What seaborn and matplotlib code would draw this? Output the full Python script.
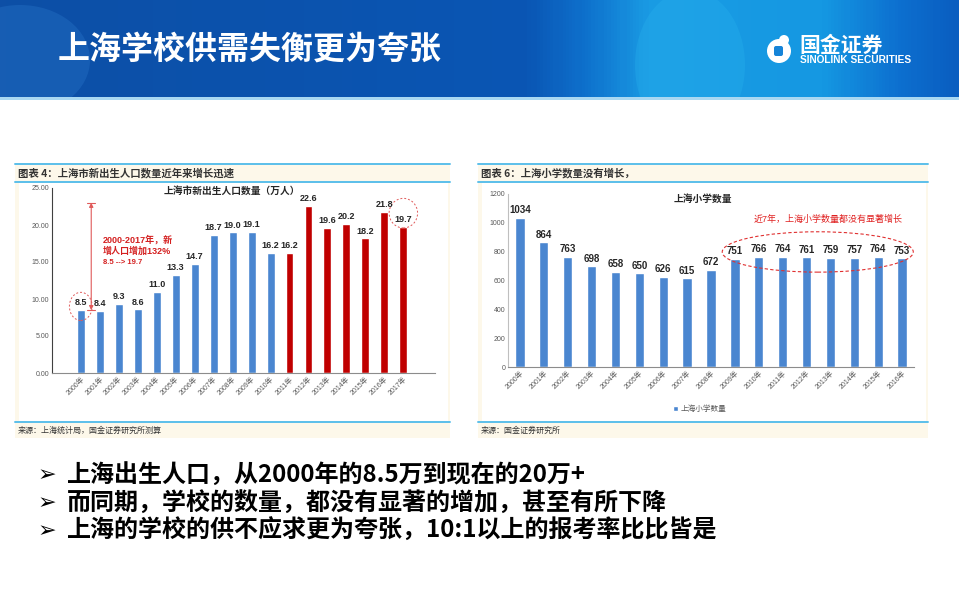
import numpy as np
import pandas as pd
import matplotlib
matplotlib.use("Agg")
import matplotlib.pyplot as plt
from matplotlib.colors import LinearSegmentedColormap
from matplotlib.patches import Rectangle, Ellipse, Circle, FancyBboxPatch
import seaborn as sns

# data
birth_years = [f"{y}年" for y in range(2000, 2018)]
births = [8.5, 8.4, 9.3, 8.6, 11.0, 13.3, 14.7, 18.7, 19.0, 19.1, 16.2,
          16.2, 22.6, 19.6, 20.2, 18.2, 21.8, 19.7]
birth_period = ["前"] * 11 + ["后"] * 7

school_years = [f"{y}年" for y in range(2000, 2017)]
schools = [1034, 864, 763, 698, 658, 650, 626, 615, 672, 751, 766, 764,
           761, 759, 757, 764, 753]

page_title = "上海学校供需失衡更为夸张"
bullets = ["上海出生人口，从2000年的8.5万到现在的20万+",
           "而同期，学校的数量，都没有显著的增加，甚至有所下降",
           "上海的学校的供不应求更为夸张，10:1以上的报考率比比皆是"]

sns.set_style("white")
plt.rcParams['font.family'] = ['Liberation Sans', 'Noto Sans CJK SC', 'DejaVu Sans']

BLUE = "#4a86d0"
RED = "#c00000"
LINE = "#5bbfea"
BEIGE = "#fdf8ea"
CJK = ['Noto Sans CJK SC', 'DejaVu Sans']

fig = plt.figure(figsize=(9.59, 6.15), dpi=100)

# background layer in pixel coordinates
bg = fig.add_axes([0, 0, 1, 1], zorder=0)
bg.set_xlim(0, 959)
bg.set_ylim(615, 0)
bg.axis("off")

# header banner
cmap = LinearSegmentedColormap.from_list("hdr", [
    (0.0, "#0d4fa6"), (0.55, "#0a56b4"), (0.61, "#0e70cc"), (0.68, "#1a9ce4"),
    (0.86, "#1598e2"), (0.94, "#0d70d0"), (1.0, "#0a5ec0")])
bg.imshow(np.linspace(0, 1, 300).reshape(1, -1), cmap=cmap, aspect="auto",
          extent=[0, 959, 97, 0], zorder=1)
banner = Rectangle((0, 0), 959, 97, transform=bg.transData)
for center, w, h, col, a in [((20, 60), 140, 110, "#2a78cc", 0.35),
                             ((690, 65), 110, 150, "#2ab4ee", 0.3)]:
    e = Ellipse(center, w, h, color=col, alpha=a, lw=0, zorder=2)
    bg.add_patch(e)
    e.set_clip_path(banner)
bg.add_patch(Rectangle((0, 97), 959, 3, color="#a9d8f2", lw=0, zorder=2))
bg.text(58, 50, page_title, fontsize=23, fontweight="bold", color="white",
        va="center", family=CJK, zorder=3)

# logo
bg.add_patch(Circle((779, 51), 12, color="white", lw=0, zorder=3))
bg.add_patch(Circle((784, 40), 5, color="white", lw=0, zorder=3))
bg.add_patch(FancyBboxPatch((774, 46), 9, 10, boxstyle="round,pad=0,rounding_size=2",
                            color="#1584d8", lw=0, zorder=4))
bg.text(799, 45, "国金证券", fontsize=15, fontweight="bold", color="white",
        va="center", family=CJK, zorder=3)
bg.text(800, 60, "SINOLINK SECURITIES", fontsize=7.3, fontweight="bold",
        color="white", va="center", zorder=3)

# panel frames
for x0, x1, cap, src in [(15, 450, "图表 4：上海市新出生人口数量近年来增长迅速",
                          "来源：上海统计局，国金证券研究所测算"),
                         (478, 928, "图表 6：上海小学数量没有增长，",
                          "来源：国金证券研究所")]:
    bg.add_patch(Rectangle((x0, 164), x1 - x0, 274, color=BEIGE, lw=0, zorder=1))
    bg.add_patch(Rectangle((x0 + 4, 182), x1 - x0 - 6, 240, color="white", lw=0, zorder=1))
    for yy in (164, 182, 422):
        bg.plot([x0, x1], [yy, yy], color=LINE, lw=1.4, zorder=2)
    bg.text(x0 + 3, 173, cap, fontsize=7.5, fontweight="bold", color="#333333",
            va="center", family=CJK, zorder=3)
    bg.text(x0 + 3, 430, src, fontsize=5.8, color="#333333", va="center",
            family=CJK, zorder=3)

# bullets
for i, line in enumerate(bullets):
    yy = 475 + 28 * i
    bg.text(38, yy, "➢", fontsize=16, color="black", va="center",
            family=['DejaVu Sans'], zorder=3)
    bg.text(67, yy, line, fontsize=17.3, fontweight="bold", color="black",
            va="center", family=CJK, zorder=3)

# left chart: births
ax1 = fig.add_axes([52 / 959, (615 - 373) / 615, 383 / 959, 185 / 615], zorder=2)
df1 = pd.DataFrame({"year": birth_years, "births": births, "period": birth_period})
sns.barplot(data=df1, x="year", y="births", hue="period",
            palette={"前": BLUE, "后": RED}, dodge=False, width=0.42,
            saturation=1, legend=False, ax=ax1)
ax1.set_ylim(0, 25)
ax1.set_yticks(np.arange(0, 26, 5))
ax1.set_yticklabels([f"{v:.2f}" for v in np.arange(0, 26, 5)])
for c in ax1.containers:
    ax1.bar_label(c, fmt="%.1f", padding=2, fontsize=6.5, fontweight="bold",
                  color="#262626")
ax1.set_xlabel("")
ax1.set_ylabel("")
ax1.tick_params(axis="both", length=0, labelsize=5, colors="#595959", pad=2)
plt.setp(ax1.get_xticklabels(), rotation=45, ha="right", rotation_mode="anchor")
for s in ("top", "right"):
    ax1.spines[s].set_visible(False)
ax1.spines["left"].set_color("#404040")
ax1.spines["bottom"].set_color("#8c8c8c")
ax1.spines["left"].set_linewidth(0.8)
ax1.spines["bottom"].set_linewidth(0.8)
ax1.text(0.47, 0.985, "上海市新出生人口数量（万人）", transform=ax1.transAxes,
         ha="center", va="center", fontsize=7, fontweight="bold", color="#262626")

# growth annotation
ann_red = "#e05a5a"
ax1.annotate("", xy=(0.55, births[0]), xytext=(0.55, 23.0),
             arrowprops=dict(arrowstyle="<|-|>", color=ann_red, lw=0.8,
                             mutation_scale=6, shrinkA=0, shrinkB=0))
for yy in (births[0], 23.0):
    ax1.plot([0.35, 0.75], [yy, yy], color=ann_red, lw=0.8)
ax1.text(1.18, 18.0, "2000-2017年，新", fontsize=6.5, fontweight="bold", color="#d42020",
         va="center")
ax1.text(1.18, 16.5, "增人口增加132%", fontsize=6.5, fontweight="bold", color="#d42020",
         va="center")
ax1.text(1.18, 15.0, f"{births[0]} --> {births[-1]}", fontsize=5.5, fontweight="bold",
         color="#d42020", va="center")
ax1.add_patch(Ellipse((0, births[0] + 0.5), 1.2, 3.8, fill=False, ls=(0, (2, 2)),
                      color=ann_red, lw=0.7))
ax1.add_patch(Ellipse((len(births) - 1, births[-1] + 1.9), 1.5, 4.0, fill=False,
                      ls=(0, (2, 2)), color=ann_red, lw=0.7, clip_on=False))

# right chart: schools
ax2 = fig.add_axes([508 / 959, (615 - 367) / 615, 406 / 959, 173 / 615], zorder=2)
df2 = pd.DataFrame({"year": school_years, "schools": schools})
sns.barplot(data=df2, x="year", y="schools", color=BLUE, width=0.39,
            saturation=1, label="上海小学数量", ax=ax2)
ax2.set_ylim(0, 1200)
ax2.set_yticks(range(0, 1201, 200))
for c in ax2.containers:
    ax2.bar_label(c, fmt="%d", padding=2, fontsize=7, fontweight="bold",
                  color="#262626")
ax2.set_xlabel("")
ax2.set_ylabel("")
ax2.tick_params(axis="both", length=0, labelsize=5, colors="#595959", pad=2)
plt.setp(ax2.get_xticklabels(), rotation=45, ha="right", rotation_mode="anchor")
for s in ("top", "right"):
    ax2.spines[s].set_visible(False)
ax2.spines["left"].set_color("#bfbfbf")
ax2.spines["bottom"].set_color("#8c8c8c")
ax2.spines["left"].set_linewidth(0.8)
ax2.spines["bottom"].set_linewidth(0.8)
ax2.text(0.48, 0.971, "上海小学数量", transform=ax2.transAxes, ha="center",
         va="center", fontsize=7, fontweight="bold", color="#262626")
ax2.text(12.9, 1027, "近7年，上海小学数量都没有显著增长", ha="center", va="center",
         fontsize=6.5, color="#e02020")
ax2.add_patch(Ellipse((12.47, 798), 8.0, 280, fill=False, ls=(0, (3, 2)),
                      color="#e03030", lw=0.8, clip_on=False))
leg = ax2.legend(loc="center", bbox_to_anchor=(0.473, -0.243), frameon=False,
                 fontsize=5.5, handlelength=0.6, handleheight=0.6, handletextpad=0.4)
for t in leg.get_texts():
    t.set_color("#595959")

fig.savefig("out.png", dpi=100)
